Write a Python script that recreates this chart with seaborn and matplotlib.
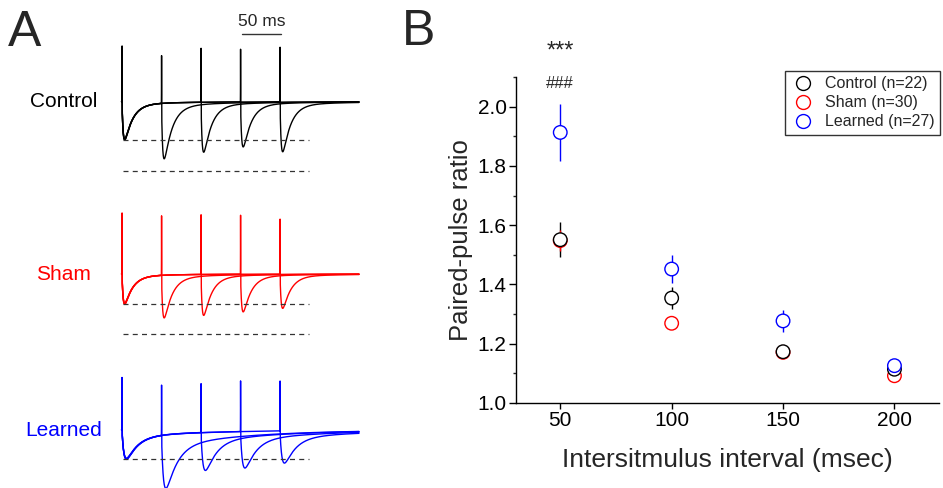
import numpy as np
import pandas as pd
import matplotlib
matplotlib.use("Agg")
import matplotlib.pyplot as plt
from matplotlib.lines import Line2D
from matplotlib.ticker import MultipleLocator, FormatStrFormatter
import seaborn as sns

# ---------------- Panel B data ----------------
intervals = [50, 100, 150, 200]
groups = ["Control", "Sham", "Learned"]
group_n = [22, 30, 27]
ppr_control = [1.551, 1.354, 1.173, 1.114]
sem_control = [0.060, 0.036, 0.020, 0.020]
ppr_sham = [1.548, 1.269, 1.171, 1.092]
sem_sham = [0.035, 0.010, 0.018, 0.015]
ppr_learned = [1.913, 1.452, 1.277, 1.126]
sem_learned = [0.095, 0.048, 0.037, 0.015]
colors = ["#000000", "#FF0000", "#0000FF"]
sig_marks = ["***", "###"]

# ---------------- Panel A data (example traces) ----------------
trace_isi = [50, 100, 150, 200]                  # ms, one sweep each
first_amp_control = [38.0, 37.2, 38.4, 37.6]      # EPSC amplitude (display units)
second_amp_control = [55.6, 50.0, 45.0, 50.0]
first_amp_sham = [30.0, 29.2, 30.4, 29.6]
second_amp_sham = [42.7, 41.0, 37.7, 34.3]
first_amp_learned = [29.0, 28.2, 29.4, 28.6]
second_amp_learned = [53.5, 38.0, 36.5, 32.2]
art_first = [58.7, 63.3, 54.0]                    # stimulus artifact heights
art_second_control = [52.7, 58.4, 56.7, 59.0]
art_second_sham = [63.3, 63.3, 62.3, 58.0]
art_second_learned = [53.3, 51.0, 52.7, 51.7]
ref_levels_control = [38.0, 69.0]                 # dashed reference levels
ref_levels_sham = [30.0, 60.0]
ref_levels_learned = [29.0]
scale_bar_ms = 50

# ---------------- style ----------------
sns.set_style("ticks")
plt.rcParams["font.family"] = ["Liberation Sans", "DejaVu Sans"]
plt.rcParams["axes.linewidth"] = 1.0

W, H = 943, 488
fig = plt.figure(figsize=(W / 100, H / 100), dpi=100)

# ================= Panel A =================
px_per_ms = 0.79
t0_px = 122.0
axA = fig.add_axes([0, 0, 400 / W, 1])
axA.set_xlim(-t0_px / px_per_ms, (400 - t0_px) / px_per_ms)
axA.set_ylim(0, H)
axA.axis("off")

# waveform kinetics (style parameters)
kin = {
    "Control": dict(tr=1.5, td1=10.0, td2=60.0, w=0.95),
    "Sham": dict(tr=1.5, td1=10.0, td2=60.0, w=0.95),
    "Learned": dict(tr=2.5, td1=14.0, td2=100.0, w=0.85),
}
baselines = {"Control": H - 101.7, "Sham": H - 274.0, "Learned": H - 430.0}

t = np.arange(-0.6, 300.0, 0.02)


def epsc(tt, k):
    out = np.zeros_like(tt)
    m = tt >= 0
    x = tt[m]
    out[m] = k["w"] * np.exp(-x / k["td1"]) + (1 - k["w"]) * np.exp(-x / k["td2"]) - np.exp(-x / k["tr"])
    return out


def spike(tt):
    return np.exp(-((tt - 0.1) / 0.12) ** 2)


trace_sets = [
    ("Control", first_amp_control, second_amp_control, art_second_control, ref_levels_control),
    ("Sham", first_amp_sham, second_amp_sham, art_second_sham, ref_levels_sham),
    ("Learned", first_amp_learned, second_amp_learned, art_second_learned, ref_levels_learned),
]
for gi, (g, a1s, a2s, arts2, refs) in enumerate(trace_sets):
    k = kin[g]
    probe = np.arange(0, 100, 0.01)
    norm = epsc(probe, k).max()
    base = baselines[g]
    for isi, a1, a2, h2 in zip(trace_isi, a1s, a2s, arts2):
        y = (base - a1 * epsc(t, k) / norm - a2 * epsc(t - isi, k) / norm
             + art_first[gi] * spike(t) + h2 * spike(t - isi))
        axA.plot(t, y, color=colors[gi], lw=1.0, solid_joinstyle="round")
    for r in refs:
        axA.plot([1.0, 236.5], [base - r, base - r], color="#333333", lw=0.9,
                 dashes=(4.0, 3.4))
    axA.text(-73.5, base, g, color=colors[gi], fontsize=15,
             ha="center", va="center")

# scale bar
sb_start = 151.5
axA.plot([sb_start, sb_start + scale_bar_ms], [H - 34.3, H - 34.3], color="#333333", lw=1.0)
axA.text(sb_start + scale_bar_ms / 2, H - 21.5, f"{scale_bar_ms} ms", fontsize=12.5,
         ha="center", va="center")

# ================= Panel B =================
axB = fig.add_axes([515.7 / W, 85 / H, (939 - 515.7) / W, 326 / H])
ppr_all = [ppr_control, ppr_sham, ppr_learned]
sem_all = [sem_control, sem_sham, sem_learned]
rows = []
for g, p, s in zip(groups, ppr_all, sem_all):
    for x, v, e in zip(intervals, p, s):
        rows.append(dict(group=g, interval=x, ppr=v, sem=e))
df = pd.DataFrame(rows)
draw_order = ["Sham", "Control", "Learned"]
df_sorted = pd.concat([df[df.group == g] for g in draw_order])

for g, c, p, s in zip(groups, colors, ppr_all, sem_all):
    axB.errorbar(intervals, p, yerr=s, fmt="none", ecolor=c, elinewidth=1.0,
                 capsize=0, zorder=2)

sns.scatterplot(data=df_sorted, x="interval", y="ppr", hue="group",
                palette=dict(zip(groups, colors)), s=95, legend=False,
                ax=axB, zorder=3, linewidth=1.0)
coll = axB.collections[-1]
fc = coll.get_facecolors().copy()
coll.set_edgecolors(fc)
coll.set_facecolors("white")
coll.set_linewidths(1.0)

axB.set_xlim(30, 220)
axB.set_ylim(1.0, 2.1)
axB.set_xticks(intervals)
axB.set_yticks(np.arange(1.0, 2.01, 0.2))
axB.yaxis.set_minor_locator(MultipleLocator(0.1))
axB.yaxis.set_major_formatter(FormatStrFormatter("%.1f"))
axB.tick_params(axis="both", which="major", labelsize=15, direction="out",
                width=1.0, color="black", labelcolor="black")
axB.tick_params(axis="x", which="major", length=4, pad=1.5)
axB.tick_params(axis="y", which="major", length=5, pad=1.5)
axB.tick_params(axis="y", which="minor", length=2.5, width=1.0, direction="out")
for sp in ["top", "right"]:
    axB.spines[sp].set_visible(False)
for sp in ["left", "bottom"]:
    axB.spines[sp].set_color("black")
axB.set_xlabel("Intersitmulus interval (msec)", fontsize=19, labelpad=13)
axB.set_ylabel("Paired-pulse ratio", fontsize=18.5, labelpad=3)

axB.text(50, 2.167, sig_marks[0], fontsize=17, ha="center", va="baseline",
         clip_on=False)
axB.text(50, 2.0625, sig_marks[1], fontsize=12, ha="center", va="baseline",
         clip_on=False)

handles = [Line2D([], [], marker="o", ls="none", mfc="white", mec=c, ms=10, mew=1.0)
           for c in colors]
labels = [f"{g} (n={n})" for g, n in zip(groups, group_n)]
leg = axB.legend(handles, labels, loc="upper right",
                 bbox_to_anchor=(940 / W, 1 - 70.7 / H), bbox_transform=fig.transFigure,
                 fontsize=11.5, frameon=True, fancybox=False, edgecolor="#333333",
                 framealpha=1, handlelength=1.6, handletextpad=0.55, borderpad=0.35,
                 labelspacing=0.25, borderaxespad=0)
leg.get_frame().set_linewidth(1.0)

# panel letters
fig.text(8 / W, 1 - 46 / H, "A", fontsize=36, ha="left", va="baseline")
fig.text(402 / W, 1 - 45 / H, "B", fontsize=36, ha="left", va="baseline")

fig.savefig("out.png", dpi=100)
